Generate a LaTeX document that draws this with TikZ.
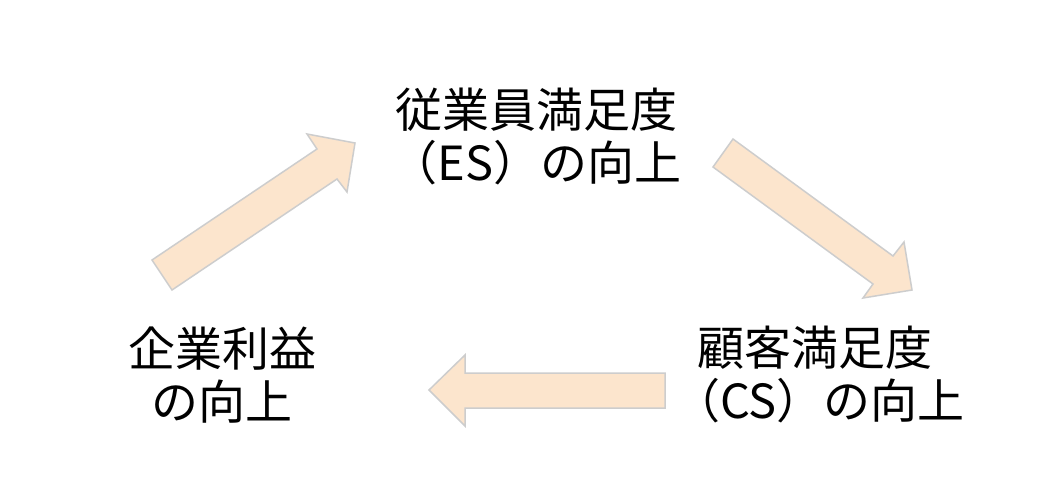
\documentclass[tikz,border=0pt]{standalone}
\usepackage{fontspec}
\newfontfamily\cjk{Noto Sans CJK JP}
\definecolor{peach}{RGB}{252,229,205}
\definecolor{rim}{RGB}{205,205,205}
\tikzset{
  bigarrow/.style={fill=peach, draw=rim, line width=1.5pt, line join=miter},
  caption/.style={font=\cjk\fontsize{47}{53}\selectfont, inner sep=0pt}
}

\begin{document}
\begin{tikzpicture}[x=1pt, y=-1pt]
			%%%%% START %%%%%
			
			\useasboundingbox[fill=white] (0, 0) rectangle (1050, 493);
			
			\node[caption, align=center] (es) at (536, 136) {従業員満足度\\（ES）の向上};
			\node[caption, align=center] (profit) at (222, 375) {企業利益\\の向上};
			\node[caption, align=left, anchor=west] (cs) at (697, 375) {顧客満足度\\\hspace*{-24pt}（CS）の向上};
			
			\draw[bigarrow] (152, 260) -- (317, 149) -- (307, 134) -- (355, 143) -- (347, 192) -- (337, 179) -- (172, 290) -- cycle;
			
			\draw[bigarrow] (733, 139) -- (893, 256) -- (904, 242) -- (912, 290) -- (863, 298) -- (873, 284) -- (713, 167) -- cycle;
			
			\draw[bigarrow] (665, 373) -- (465, 373) -- (465, 355) -- (429, 390) -- (465, 426) -- (465, 408) -- (665, 408) -- cycle;
			
			%%%%% END %%%%%
		\end{tikzpicture}
\end{document}
